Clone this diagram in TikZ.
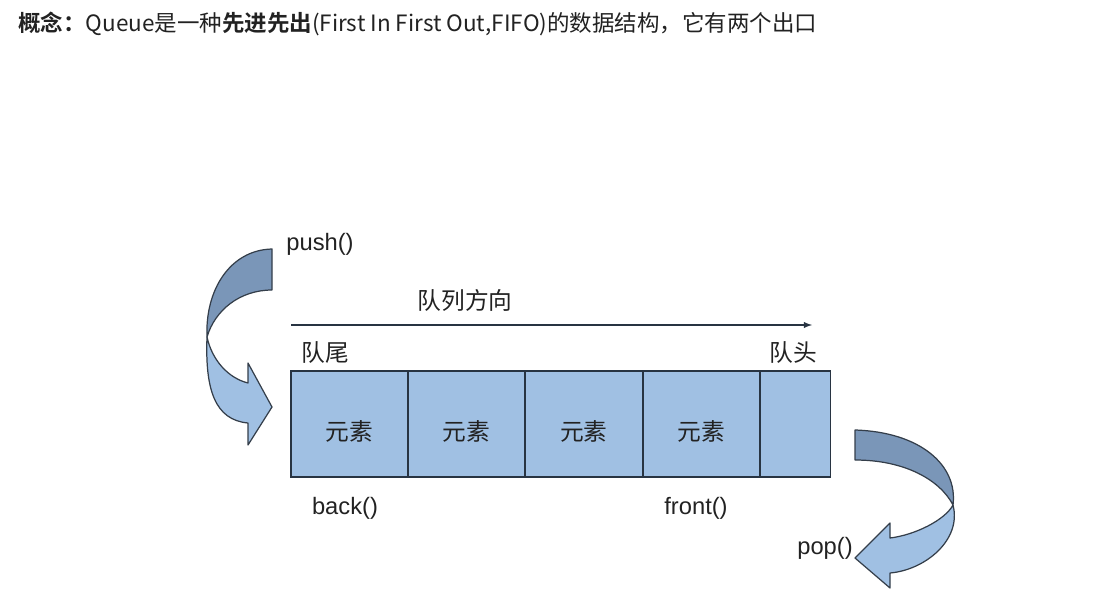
\documentclass[tikz,border=0pt]{standalone}
\usepackage{fontspec}
\setmainfont{Liberation Sans}
\newfontfamily\cjk{Noto Sans CJK SC}[BoldFont={Noto Sans CJK SC Bold}]
\usetikzlibrary{positioning}
\definecolor{boxfill}{RGB}{160,192,227}
\definecolor{boxline}{RGB}{40,52,66}
\definecolor{ribdark}{RGB}{122,150,184}
\definecolor{ribline}{RGB}{52,62,74}
\definecolor{labtext}{RGB}{34,34,34}
\tikzset{
    cell/.style={draw=boxline,fill=boxfill,line width=0.65pt,minimum height=2.12cm,
        inner sep=0pt,outer sep=0pt},
    lab/.style={inner sep=0pt,text=labtext,font=\fontsize{13.5}{16}\selectfont},
    cjklab/.style={lab,font=\cjk\fontsize{13.5}{16}\selectfont},
    elem/.style={label={[cjklab,yshift=-0.14cm]center:元素}},
    ribbon/.style={draw=ribline,line width=0.7pt,line join=round}
}
\begin{document}
\begin{tikzpicture}[x=0.02cm,y=-0.02cm]
    \useasboundingbox (0,0) rectangle (1114,598);
    \node[anchor=west,inner sep=0pt,text=labtext,font=\cjk\fontsize{12.8}{15}\selectfont] (title) at (18,24)
        {\textbf{概念：}Queue是一种\textbf{先进先出}(First In First Out,FIFO)的数据结构，它有两个出口};
    % queue cells
    \node[cell,elem,minimum width=2.34cm] (q1) at (349.5,424) {};
    \node[cell,elem,minimum width=2.34cm,right=0pt of q1] (q2) {};
    \node[cell,elem,minimum width=2.36cm,right=0pt of q2] (q3) {};
    \node[cell,elem,minimum width=2.34cm,right=0pt of q3] (q4) {};
    \node[cell,minimum width=1.42cm,right=0pt of q4] (qh) {};
    % direction
    \coordinate (dirs) at (291,325);
    \coordinate (dire) at (812,325);
    \draw[-latex,line width=0.6pt,boxline] (dirs) -- (dire);
    \node[cjklab] (dirlab) at (465,300) {队列方向};
    \node[cjklab] (tail) at (325,353) {队尾};
    \node[cjklab] (head) at (793,353) {队头};
    \node[lab] (back) at (345,508) {back()};
    \node[lab] (front) at (696,508) {front()};
    \node[lab] (push) at (320,244) {push()};
    \node[lab] (pop) at (825,548) {pop()};
    % push ribbon
    \draw[ribbon,fill=boxfill] (207,337) .. controls (205,390) and (215,420) .. (248,423)
        -- (248,445) -- (272,407) -- (248,363) -- (248,383)
        .. controls (228,378) and (212,360) .. (207,337) -- cycle;
    \draw[ribbon,fill=ribdark] (272,249) .. controls (230,250) and (205,290) .. (207,337)
        .. controls (215,310) and (240,290) .. (272,290) -- cycle;
    % pop ribbon
    \draw[ribbon,fill=boxfill] (953,505) .. controls (962,540) and (925,570) .. (890,573)
        -- (890,588) -- (855,558) -- (890,523) -- (890,538)
        .. controls (915,535) and (945,520) .. (953,505) -- cycle;
    \draw[ribbon,fill=ribdark] (855,430) .. controls (920,432) and (958,465) .. (953,505)
        .. controls (940,480) and (905,460) .. (855,460) -- cycle;
\end{tikzpicture}
\end{document}
